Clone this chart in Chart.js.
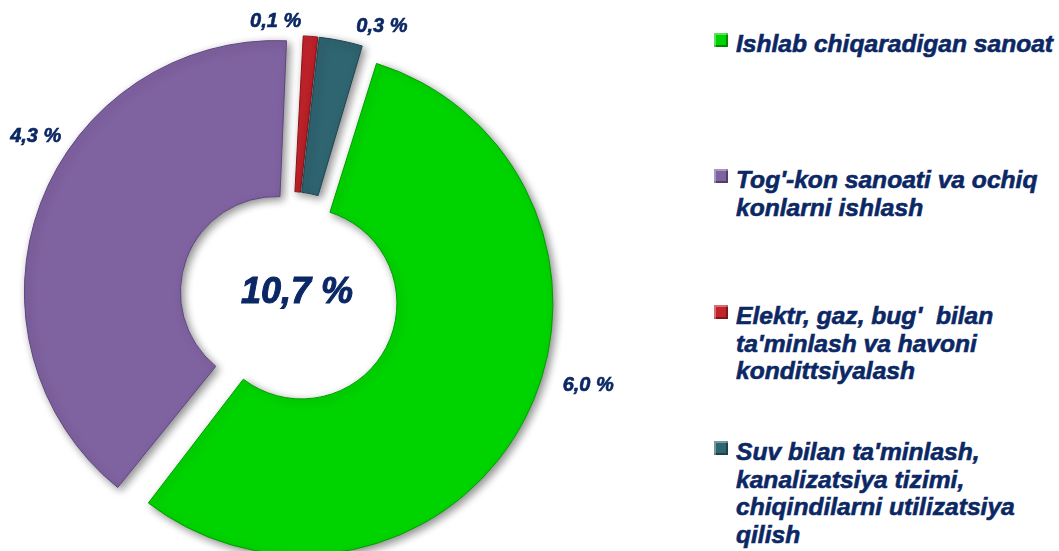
<!DOCTYPE html>
<html>
<head>
<meta charset="utf-8">
<script src="https://cdn.jsdelivr.net/npm/chart.js@4.4.1/dist/chart.umd.min.js"></script>
<style>
  html, body { margin: 0; padding: 0; background: #fff; width: 1059px; height: 551px; overflow: hidden; }
  #wrap { position: absolute; left: 0; top: 0; width: 700px; height: 594px; }
  .item { position: absolute; left: 714px; }
  .item .box { position: absolute; left: 0; top: -11px; width: 14px; height: 14px; box-sizing: border-box;
    box-shadow: inset 2px 2px 0 rgba(255,255,255,0.35), inset -2px -2px 0 rgba(0,0,0,0.35); }
  .item .txt { position: absolute; left: 22px; top: -14px; white-space: pre; color: #0b2865;
    font: italic bold 24.6px "Liberation Sans", Arial, sans-serif; line-height: 27.5px;
    -webkit-text-stroke: 0.6px #0b2865; }
</style>
</head>
<body>
<div id="wrap"><canvas id="pie"></canvas></div>
<div id="legend"></div>
<script>
// categories (legend lines as shown) and values, %
const categories = [
    ["Ishlab chiqaradigan sanoat"],
    ["Tog'-kon sanoati va ochiq", "konlarni ishlash"],
    ["Elektr, gaz, bug'  bilan", "ta'minlash va havoni", "kondittsiyalash"],
    ["Suv bilan ta'minlash,", "kanalizatsiya tizimi,", "chiqindilarni utilizatsiya", "qilish"]
];
const shares = [6.0, 4.3, 0.1, 0.3];
const sliceColors = ['#00d400', '#7f62a0', '#c3232b', '#2f6471'];
const edgeColors = ['#009c00', '#5e4581', '#8a1218', '#1d4550'];

const fmt = v => v.toFixed(1).replace('.', ',') + ' %';
const total = shares.reduce((a, b) => a + b, 0);

// pull slices apart along their middle angle
const explode = {
    id: 'explode',
    afterDatasetsUpdate(chart, args, opts) {
        chart.getDatasetMeta(0).data.forEach((arc, i) => {
            const mid = (arc.startAngle + arc.endAngle) / 2;
            arc.x += Math.cos(mid) * opts.dist[i];
            arc.y += Math.sin(mid) * opts.dist[i];
        });
    }
};

const shadow = {
    id: 'shadow',
    beforeDatasetsDraw(chart) {
        const ctx = chart.ctx;
        ctx.save();
        ctx.shadowColor = 'rgba(0,0,0,0.45)';
        ctx.shadowBlur = 8;
        ctx.shadowOffsetX = 3;
        ctx.shadowOffsetY = 3;
    },
    afterDatasetsDraw(chart) {
        chart.ctx.restore();
    }
};

const sliceLabels = {
    id: 'sliceLabels',
    afterDraw(chart, args, opts) {
        const ctx = chart.ctx;
        const area = chart.chartArea;
        const cx = (area.left + area.right) / 2;
        const cy = (area.top + area.bottom) / 2;
        ctx.save();
        ctx.fillStyle = ctx.strokeStyle = '#0b2865';
        ctx.textAlign = 'center';
        ctx.textBaseline = 'middle';
        ctx.lineWidth = 0.6;
        ctx.font = 'italic bold 20px "Liberation Sans", Arial, sans-serif';
        chart.getDatasetMeta(0).data.forEach((arc, i) => {
            const a = (arc.startAngle + arc.endAngle) / 2 + opts.shift[i] * Math.PI / 180;
            const r = arc.outerRadius + opts.gap[i];
            const x = cx + Math.cos(a) * r, y = cy + Math.sin(a) * r;
            ctx.fillText(fmt(shares[i]), x, y);
            ctx.strokeText(fmt(shares[i]), x, y);
        });
        ctx.font = 'italic bold 36px "Liberation Sans", Arial, sans-serif';
        ctx.lineWidth = 1;
        ctx.fillText(fmt(total), cx + 8, cy - 4);
        ctx.strokeText(fmt(total), cx + 8, cy - 4);
        ctx.restore();
    }
};

new Chart(document.getElementById('pie'), {
    type: 'doughnut',
    data: {
        labels: categories,
        datasets: [{
            data: shares,
            backgroundColor: sliceColors,
            borderColor: edgeColors,
            borderWidth: 1,
            spacing: 3
        }]
    },
    options: {
        responsive: true,
        maintainAspectRatio: false,
        animation: false,
        rotation: 16.5,
        radius: 250,
        cutout: '37.6%',
        layout: { padding: { left: 0, top: 0, bottom: 0, right: 122 } },
        plugins: {
            legend: { display: false },
            tooltip: { enabled: false },
            explode: { dist: [14, 14, 10, 10] },
            sliceLabels: { shift: [-11, 11.7, -7.5, 7.5], gap: [62, 50, 26, 36] }
        }
    },
    plugins: [explode, shadow, sliceLabels]
});

// legend at the right
const legend = document.getElementById('legend');
categories.forEach((lines, i) => {
    const item = document.createElement('div');
    item.className = 'item';
    item.style.top = (44 + i * 136) + 'px';
    const box = document.createElement('div');
    box.className = 'box';
    box.style.background = sliceColors[i];
    const txt = document.createElement('div');
    txt.className = 'txt';
    txt.textContent = lines.join('\n');
    item.appendChild(box);
    item.appendChild(txt);
    legend.appendChild(item);
});
</script>
</body>
</html>
